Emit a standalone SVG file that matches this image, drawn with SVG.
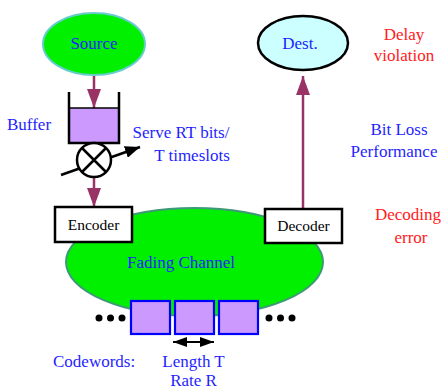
<svg xmlns="http://www.w3.org/2000/svg" width="442" height="389" viewBox="0 0 442 389" font-family="'Liberation Serif', 'DejaVu Serif', serif">
<style>
text{font-family:'Liberation Serif','DejaVu Serif',serif;}
.lbl{font-size:17px;fill:#1f1fff;}
.red{font-size:17px;fill:#ff2020;}
.box{fill:#fff;stroke:#000;stroke-width:2.5;}
.btxt{font-size:15.5px;fill:#000;}
.flow{stroke:#993366;stroke-width:2.5;fill:none;}
.cw{fill:#cc99ff;stroke:#0000ff;stroke-width:2.2;}
</style>
<defs>
<marker id="ah" markerUnits="userSpaceOnUse" markerWidth="19" markerHeight="14" refX="19" refY="7" orient="auto">
<path d="M0,0 L19,7 L0,14 z" fill="#993366"/>
</marker>
<marker id="bk" markerUnits="userSpaceOnUse" markerWidth="15" markerHeight="12" refX="15" refY="6" orient="auto">
<path d="M0,0 L15,6 L0,12 z" fill="#000"/>
</marker>
<marker id="bk2" markerUnits="userSpaceOnUse" markerWidth="14" markerHeight="10" refX="14" refY="5" orient="auto-start-reverse">
<path d="M0,0 L14,5 L0,10 z" fill="#000"/>
</marker>
</defs>

<g id="channel">
<ellipse cx="194.5" cy="262" rx="128.5" ry="54" fill="#00f000" stroke="#3d9977" stroke-width="2"/>
<text class="lbl" x="181" y="268" text-anchor="middle">Fading Channel</text>
</g>

<g id="connectors">
<line class="flow" x1="94" y1="75" x2="94" y2="108" marker-end="url(#ah)"/>
<line class="flow" x1="94" y1="177" x2="94" y2="207" marker-end="url(#ah)"/>
<line class="flow" x1="303" y1="209" x2="303" y2="76" marker-end="url(#ah)"/>
<line x1="61" y1="175" x2="140" y2="147" stroke="#000" stroke-width="2.5" marker-end="url(#bk)"/>
<line x1="173" y1="342" x2="214" y2="342" stroke="#000" stroke-width="2" marker-start="url(#bk2)" marker-end="url(#bk2)"/>
</g>

<g id="source">
<ellipse cx="94" cy="44" rx="51" ry="31" fill="#00f000" stroke="#66cccc" stroke-width="2"/>
<text class="lbl" x="94" y="49" text-anchor="middle">Source</text>
</g>

<g id="dest">
<ellipse cx="303" cy="43" rx="45" ry="27" fill="#ccffff" stroke="#000" stroke-width="2.5"/>
<text class="lbl" x="300" y="49" text-anchor="middle">Dest.</text>
</g>

<g id="buffer">
<rect x="69" y="108" width="50" height="35" fill="#cc99ff"/>
<path d="M69,92 V143 H119 V92" fill="none" stroke="#000" stroke-width="2.5"/>
<line x1="69" y1="108" x2="119" y2="108" stroke="#000" stroke-width="1.5"/>
<text class="lbl" x="7" y="130">Buffer</text>
</g>

<g id="server">
<circle cx="94" cy="160" r="17" fill="#fff" stroke="#000" stroke-width="2.5"/>
<path d="M82,148 L106,172 M106,148 L82,172" stroke="#000" stroke-width="2.5"/>
<text class="lbl" x="181" y="138" text-anchor="middle">Serve RT bits/</text>
<text class="lbl" x="192" y="161" text-anchor="middle">T timeslots</text>
</g>

<g id="encoder">
<rect class="box" x="55" y="207" width="77" height="35"/>
<text class="btxt" x="93.5" y="230" text-anchor="middle">Encoder</text>
</g>

<g id="decoder">
<rect class="box" x="265" y="209" width="77" height="34"/>
<text class="btxt" x="303.5" y="231" text-anchor="middle">Decoder</text>
</g>

<g id="codewords">
<rect class="cw" x="131" y="301" width="39" height="33"/>
<rect class="cw" x="175" y="301" width="39" height="33"/>
<rect class="cw" x="219" y="301" width="39" height="33"/>
<circle cx="99" cy="318" r="3.5"/>
<circle cx="110.5" cy="318" r="3.5"/>
<circle cx="122" cy="318" r="3.5"/>
<circle cx="269" cy="318" r="3.5"/>
<circle cx="280.5" cy="318" r="3.5"/>
<circle cx="292" cy="318" r="3.5"/>
<text class="lbl" x="53" y="367">Codewords:</text>
<text class="lbl" x="193.5" y="367" text-anchor="middle">Length T</text>
<text class="lbl" x="193.5" y="386" text-anchor="middle">Rate R</text>
</g>

<g id="notes">
<text class="red" x="404" y="40" text-anchor="middle">Delay</text>
<text class="red" x="404" y="61" text-anchor="middle">violation</text>
<text class="lbl" x="399" y="135" text-anchor="middle">Bit Loss</text>
<text class="lbl" x="394" y="157" text-anchor="middle">Performance</text>
<text class="red" x="408" y="220" text-anchor="middle">Decoding</text>
<text class="red" x="411" y="243" text-anchor="middle">error</text>
</g>
</svg>
